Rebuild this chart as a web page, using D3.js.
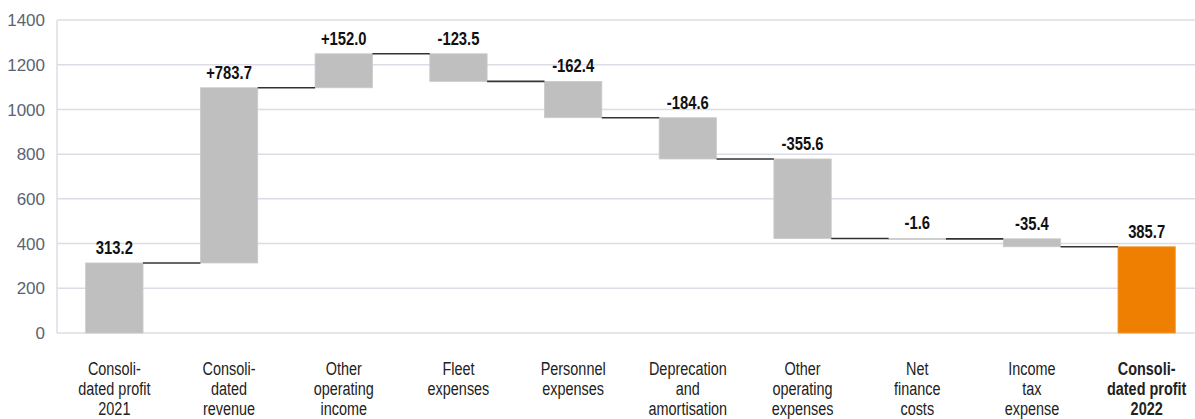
<!DOCTYPE html>
<html>
<head>
<meta charset="utf-8">
<script src="https://cdn.jsdelivr.net/npm/d3@7"></script>
<style>
  html, body { margin: 0; padding: 0; background: #ffffff; }
  svg { display: block; }
  text { font-family: "Liberation Sans", Arial, Helvetica, sans-serif; }
</style>
</head>
<body>
<svg id="chart" width="1195" height="419"></svg>
<script>
// Bridge from consolidated profit 2021 to consolidated profit 2022 (EUR m)
const categories = [
  "Consolidated profit 2021", "Consolidated revenue", "Other operating income",
  "Fleet expenses", "Personnel expenses", "Deprecation and amortisation",
  "Other operating expenses", "Net finance costs", "Income tax expense",
  "Consolidated profit 2022"
];
const categoryLines = [
  ["Consoli-", "dated profit", "2021"],
  ["Consoli-", "dated", "revenue"],
  ["Other", "operating", "income"],
  ["Fleet", "expenses"],
  ["Personnel", "expenses"],
  ["Deprecation", "and", "amortisation"],
  ["Other", "operating", "expenses"],
  ["Net", "finance", "costs"],
  ["Income", "tax", "expense"],
  ["Consoli-", "dated profit", "2022"]
];
// "total" bars start at zero, "delta" bars float on the running total
const kinds = ["total", "delta", "delta", "delta", "delta", "delta", "delta", "delta", "delta", "total"];
const values = [313.2, 783.7, 152.0, -123.5, -162.4, -184.6, -355.6, -1.6, -35.4, 385.7];
const valueLabels = ["313.2", "+783.7", "+152.0", "-123.5", "-162.4", "-184.6", "-355.6", "-1.6", "-35.4", "385.7"];
const yTicks = [0, 200, 400, 600, 800, 1000, 1200, 1400];

const svg = d3.select("#chart");
const W = 1195;

const x = d3.scaleBand()
  .domain(categories)
  .range([57, 1204])
  .paddingInner(0.5)
  .paddingOuter(0.25);

const y = d3.scaleLinear()
  .domain([0, 1400])
  .range([333, 20]);

// Running totals: each bar spans [start, end]
let running = 0;
const bars = categories.map((c, i) => {
  let start, end;
  if (kinds[i] === "total") {
    start = 0; end = values[i];
  } else {
    start = running; end = running + values[i];
  }
  running = end;
  return { c, i, start, end, top: Math.max(start, end), bottom: Math.min(start, end) };
});

// Gridlines
svg.append("g")
  .selectAll("line")
  .data(yTicks)
  .join("line")
  .attr("x1", 57).attr("x2", W)
  .attr("y1", d => y(d)).attr("y2", d => y(d))
  .attr("stroke", "#dcdce6")
  .attr("stroke-width", 1.5);

// Left axis line
svg.append("line")
  .attr("x1", 57).attr("x2", 57)
  .attr("y1", y(1400)).attr("y2", y(0))
  .attr("stroke", "#dcdce6")
  .attr("stroke-width", 1.5);

// Y tick labels
svg.append("g")
  .selectAll("text")
  .data(yTicks)
  .join("text")
  .attr("x", 45)
  .attr("y", d => y(d))
  .attr("dy", "0.36em")
  .attr("text-anchor", "end")
  .attr("font-size", 17)
  .attr("fill", "#5a6372")
  .text(d => d);

// Bars
svg.append("g")
  .selectAll("rect")
  .data(bars)
  .join("rect")
  .attr("x", d => x(d.c))
  .attr("width", x.bandwidth())
  .attr("y", d => y(d.top))
  .attr("height", d => Math.max(1, y(d.bottom) - y(d.top)))
  .attr("fill", d => d.i === bars.length - 1 ? "#ef7f00" : "#bfbfbf")
  .attr("stroke", d => d.i === bars.length - 1 ? "#f39a3a" : "#cacaca")
  .attr("stroke-width", 0.8);

// Connectors between consecutive bars at the running total
svg.append("g")
  .selectAll("line")
  .data(bars.slice(0, -1))
  .join("line")
  .attr("x1", d => x(d.c) + x.bandwidth())
  .attr("x2", d => x(categories[d.i + 1]))
  .attr("y1", d => y(d.end))
  .attr("y2", d => y(d.end))
  .attr("stroke", "#333333")
  .attr("stroke-width", 1.6);

// Value labels above each bar
svg.append("g")
  .selectAll("text")
  .data(bars)
  .join("text")
  .attr("transform", d => `translate(${x(d.c) + x.bandwidth() / 2},${y(d.top) - 9}) scale(0.8,1)`)
  .attr("text-anchor", "middle")
  .attr("font-size", 18.5)
  .attr("font-weight", "bold")
  .attr("fill", "#111111")
  .text(d => valueLabels[d.i]);

// Category labels
const catG = svg.append("g")
  .selectAll("g")
  .data(bars)
  .join("g")
  .attr("transform", d => `translate(${x(d.c) + x.bandwidth() / 2},0)`);

catG.each(function(d) {
  const g = d3.select(this);
  categoryLines[d.i].forEach((line, k) => {
    g.append("text")
      .attr("transform", `translate(0,${374.5 + k * 20.3}) scale(0.76,1)`)
      .attr("text-anchor", "middle")
      .attr("font-size", 19)
      .attr("font-weight", d.i === bars.length - 1 ? "bold" : "normal")
      .attr("fill", "#222222")
      .text(line);
  });
});
</script>
</body>
</html>
